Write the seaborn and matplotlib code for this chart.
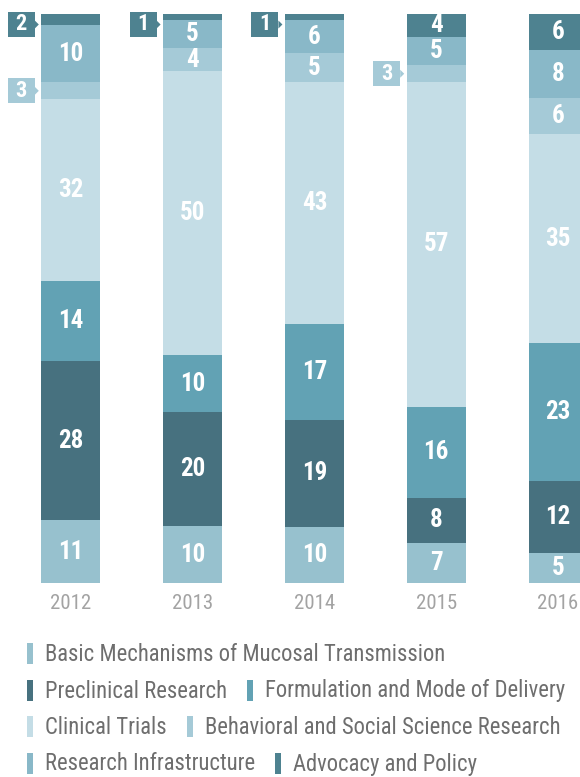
import matplotlib
matplotlib.use("Agg")
import matplotlib.pyplot as plt
from matplotlib import font_manager as fm
from matplotlib.patches import Rectangle, Polygon
import seaborn as sns
import pandas as pd
import numpy as np

# ---------------- data ----------------
years = ["2012", "2013", "2014", "2015", "2016"]
categories = [
    "Basic Mechanisms of Mucosal Transmission",
    "Preclinical Research",
    "Formulation and Mode of Delivery",
    "Clinical Trials",
    "Behavioral and Social Science Research",
    "Research Infrastructure",
    "Advocacy and Policy",
]
basic = [11, 10, 10, 7, 5]
preclinical = [28, 20, 19, 8, 12]
formulation = [14, 10, 17, 16, 23]
clinical = [32, 50, 43, 57, 35]
behavioral = [3, 4, 5, 3, 6]
infrastructure = [10, 5, 6, 5, 8]
advocacy = [2, 1, 1, 4, 6]
colors = ["#97c1ce", "#47717f", "#62a2b4", "#c4dde6", "#a5cad7", "#89b8c8", "#4e8290"]
legend_rows = [[0], [1, 2], [3, 4], [5, 6]]

series = [basic, preclinical, formulation, clinical, behavioral, infrastructure, advocacy]

# ---------------- fonts ----------------
sns.set_theme(style="white")
names = {f.name for f in fm.fontManager.ttflist}
stretch_ok = {(f.name, str(f.stretch)) for f in fm.fontManager.ttflist}
FONT = "DejaVu Sans"
STRETCH = "normal"
for cand in ["Liberation Sans Narrow", "Roboto Condensed", "Open Sans Condensed"]:
    if cand in names:
        FONT = cand
        break
else:
    if ("DejaVu Sans", "condensed") in stretch_ok:
        FONT, STRETCH = "DejaVu Sans", "condensed"
plt.rcParams["font.family"] = [FONT, "DejaVu Sans"]
plt.rcParams["font.stretch"] = STRETCH

W, H = 580, 777
fig = plt.figure(figsize=(W / 100, H / 100), dpi=100)
ax_bottom_px, ax_top_px = 583, 14
ax = fig.add_axes([0, (H - ax_bottom_px) / H, 1, (ax_bottom_px - ax_top_px) / H])

# ---------------- build table ----------------
vals = np.array(series, dtype=float)  # (n_cat, n_years)
totals = vals.sum(axis=0)
pct = vals / totals * 100
cum = np.cumsum(pct, axis=0)

rows = []
for ci, cat in enumerate(categories):
    for yi, yr in enumerate(years):
        rows.append({"year": yr, "category": cat, "value": vals[ci, yi],
                     "pct": pct[ci, yi], "top": cum[ci, yi], "bottom": cum[ci, yi] - pct[ci, yi]})
df = pd.DataFrame(rows)

BAR_W = 0.484
for ci in reversed(range(len(categories))):
    sub = df[df["category"] == categories[ci]]
    sns.barplot(data=sub, x="year", y="top", order=years, color=colors[ci],
                saturation=1, width=BAR_W, errorbar=None, linewidth=0, ax=ax)

x0_px, step_px = 70.8, 121.8
ax.set_xlim(-x0_px / step_px, (W - x0_px) / step_px)
ax.set_ylim(0, 100)
for s in ax.spines.values():
    s.set_visible(False)
ax.set_ylabel("")
ax.set_xlabel("")
ax.set_yticks([])
ax.set_xticks(range(len(years)))
ax.set_xticklabels(years, fontsize=15, color="#a3a3a3")
ax.tick_params(axis="x", length=0, pad=8)

# px -> data conversion
xpp = (ax.get_xlim()[1] - ax.get_xlim()[0]) / W
ypp = 100 / (ax_bottom_px - ax_top_px)

# ---------------- value labels ----------------
for _, r in df.iterrows():
    xi = years.index(r["year"])
    ci = categories.index(r["category"])
    yc = (r["top"] + r["bottom"]) / 2
    label = f"{int(r['value'])}"
    if r["value"] > 3:
        ax.text(xi, yc, label, ha="center", va="center", color="white",
                fontsize=18, fontweight="bold")
    else:
        bw, bh = 27 * xpp, 25 * ypp
        cx = xi - 49.5 * xpp
        cy = min(yc, 100 - 10.5 * ypp)
        ax.add_patch(Rectangle((cx - bw / 2, cy - bh / 2), bw, bh, facecolor=colors[ci],
                               edgecolor="none", clip_on=False, zorder=5))
        tx0 = cx + bw / 2
        tri = Polygon([[tx0, cy - 4 * ypp], [tx0, cy + 4 * ypp], [tx0 + 4 * xpp, cy]],
                      closed=True, facecolor=colors[ci], edgecolor="none", clip_on=False, zorder=5)
        ax.add_patch(tri)
        ax.text(cx, cy, label, ha="center", va="center", color="white",
                fontsize=16, fontweight="bold", zorder=6, clip_on=False)

# ---------------- legend ----------------
fig.canvas.draw()
renderer = fig.canvas.get_renderer()
row_centers = [653.5, 690, 726.5, 763]
for row, yc_px in zip(legend_rows, row_centers):
    x_px = 27
    for ci in row:
        fig.patches.append(Rectangle((x_px / W, 1 - (yc_px + 10.5) / H), 6 / W, 21 / H,
                                     facecolor=colors[ci], edgecolor="none",
                                     transform=fig.transFigure, figure=fig))
        t = fig.text((x_px + 18) / W, 1 - (yc_px + 1) / H, categories[ci], ha="left",
                     va="center", fontsize=16.3, color="#6e6e6e")
        bb = t.get_window_extent(renderer)
        x_px = bb.x1 + 20

fig.savefig("out.png", dpi=100)
